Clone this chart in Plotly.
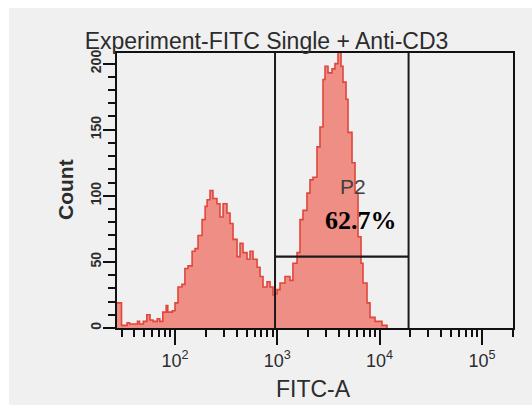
import math
import plotly.graph_objects as go

# ---- data ----
fitc = [27, 30, 34, 36, 39, 43, 45, 49, 53, 57, 61, 67, 71, 76, 82, 85, 94, 100,
        107, 117, 125, 134, 147, 157, 168, 184, 197, 206, 220, 235, 257, 275, 295,
        322, 345, 369, 404, 432, 462, 506, 541, 579, 634, 678, 725, 793, 849, 908,
        950, 994, 1063, 1189, 1330, 1422, 1559, 1667, 1783, 1950, 2088, 2234, 2443,
        2614, 2797, 2927, 3131, 3425, 3664, 3920, 4196, 4387, 4698, 4911, 5375,
        5750, 6151, 6581, 6881, 7533, 8060, 9020, 10550, 11810]
count = [19, 2, 4, 3, 3, 5, 3, 5, 10, 6, 5, 7, 5, 12, 17, 12, 13, 19,
         31, 33, 45, 47, 58, 60, 70, 82, 92, 97, 104, 98, 94, 84, 94,
         87, 79, 67, 54, 64, 57, 52, 58, 52, 46, 39, 31, 35, 31, 25,
         26, 29, 34, 39, 36, 49, 57, 82, 89, 102, 112, 114, 137,
         152, 188, 198, 193, 196, 200, 212, 198, 186, 173, 148, 125,
         102, 69, 49, 34, 19, 8, 5, 2, 0]

gate_low = 950
gate_high = 19200
gate_count = 54
gate_name = "P2"
gate_pct = "62.7%"

x_tickvals = [100, 1000, 10000, 100000]
x_ticktext = ["10<sup>2</sup>", "10<sup>3</sup>", "10<sup>4</sup>", "10<sup>5</sup>"]
x_minor = [m * 10 ** e for e in range(1, 6) for m in range(2, 10)]
y_tickvals = [0, 50, 100, 150, 200]

title_text = "Experiment-FITC Single + Anti-CD3"
x_title = "FITC-A"
y_title = "Count"

x_range = [1.433, 5.304]
y_range = [0, 208]

fig = go.Figure()
fig.add_trace(go.Scatter(
    x=fitc, y=count, mode="lines", line_shape="hv",
    line=dict(color="#e0463c", width=1.6),
    fill="tozeroy", fillcolor="#ef8e84", showlegend=False, hoverinfo="skip"))

gate_col = "#1a1a1a"
fig.add_trace(go.Scatter(x=[gate_low, gate_low], y=[0, 300], mode="lines",
                         line=dict(color=gate_col, width=2), showlegend=False))
fig.add_trace(go.Scatter(x=[gate_high, gate_high], y=[0, 300], mode="lines",
                         line=dict(color=gate_col, width=2), showlegend=False))
fig.add_trace(go.Scatter(x=[gate_low, gate_high], y=[gate_count, gate_count], mode="lines",
                         line=dict(color=gate_col, width=2.3), showlegend=False))

W, H = 532, 405
L, R, T, B = 117, 19, 53, 77
pw, ph = W - L - R, H - T - B

def px(xp):
    return (xp - L) / pw

def py(yp):
    return (H - B - yp) / ph

sans = "Liberation Sans, Arial, sans-serif"
txt_col = "#2c2c2c"

fig.update_layout(
    width=W, height=H,
    margin=dict(l=L, r=R, t=T, b=B, pad=0),
    paper_bgcolor="#ffffff",
    plot_bgcolor="#f3f3f3",
    showlegend=False,
    title=dict(text=title_text, x=266.5 / W, y=1 - 41 / H, xanchor="center",
               yanchor="middle", font=dict(family=sans, size=23, color=txt_col)),
    xaxis=dict(type="log", range=x_range, showgrid=False, zeroline=False,
               showline=True, linecolor="#111", linewidth=2, mirror=True,
               ticks="outside", ticklen=15, tickwidth=2, tickcolor="#111",
               tickvals=x_tickvals, ticktext=x_ticktext,
               tickfont=dict(family=sans, size=18, color=txt_col),
               minor=dict(tickmode="array", tickvals=x_minor, ticks="outside",
                          ticklen=7, tickwidth=2, tickcolor="#111", showgrid=False)),
    yaxis=dict(range=y_range, showgrid=False, zeroline=False,
               showline=True, linecolor="#111", linewidth=2, mirror=True,
               ticks="outside", ticklen=12, tickwidth=2, tickcolor="#111",
               tickvals=y_tickvals, tickangle=-90, ticklabelstandoff=-4,
               tickfont=dict(family=sans, size=14, color=txt_col, weight="bold"),
               minor=dict(dtick=10, tick0=0, ticks="outside", ticklen=7,
                          tickwidth=2, tickcolor="#111", showgrid=False)),
    shapes=[dict(type="rect", xref="paper", yref="paper",
                 x0=px(9), x1=px(W + 5), y0=py(8), y1=py(H + 5),
                 fillcolor="#f0f0f0", line=dict(width=0), layer="below")],
    annotations=[
        dict(text=x_title, xref="paper", yref="paper", x=px(313), y=py(389),
             xanchor="center", yanchor="middle", showarrow=False,
             font=dict(family=sans, size=23, color=txt_col)),
        dict(text=y_title, xref="paper", yref="paper", x=px(65), y=py(190),
             xanchor="center", yanchor="middle", showarrow=False, textangle=-90,
             font=dict(family=sans, size=21, color=txt_col, weight="bold")),
        dict(text=gate_name, xref="paper", yref="paper", x=px(353), y=py(186),
             xanchor="center", yanchor="middle", showarrow=False,
             font=dict(family=sans, size=21, color="#404040")),
        dict(text="<b>" + gate_pct + "</b>", xref="paper", yref="paper", x=px(361), y=py(220),
             xanchor="center", yanchor="middle", showarrow=False,
             font=dict(family="Liberation Serif, Times New Roman, serif", size=26, color="#000000")),
    ],
)

fig.write_html("out.html")
